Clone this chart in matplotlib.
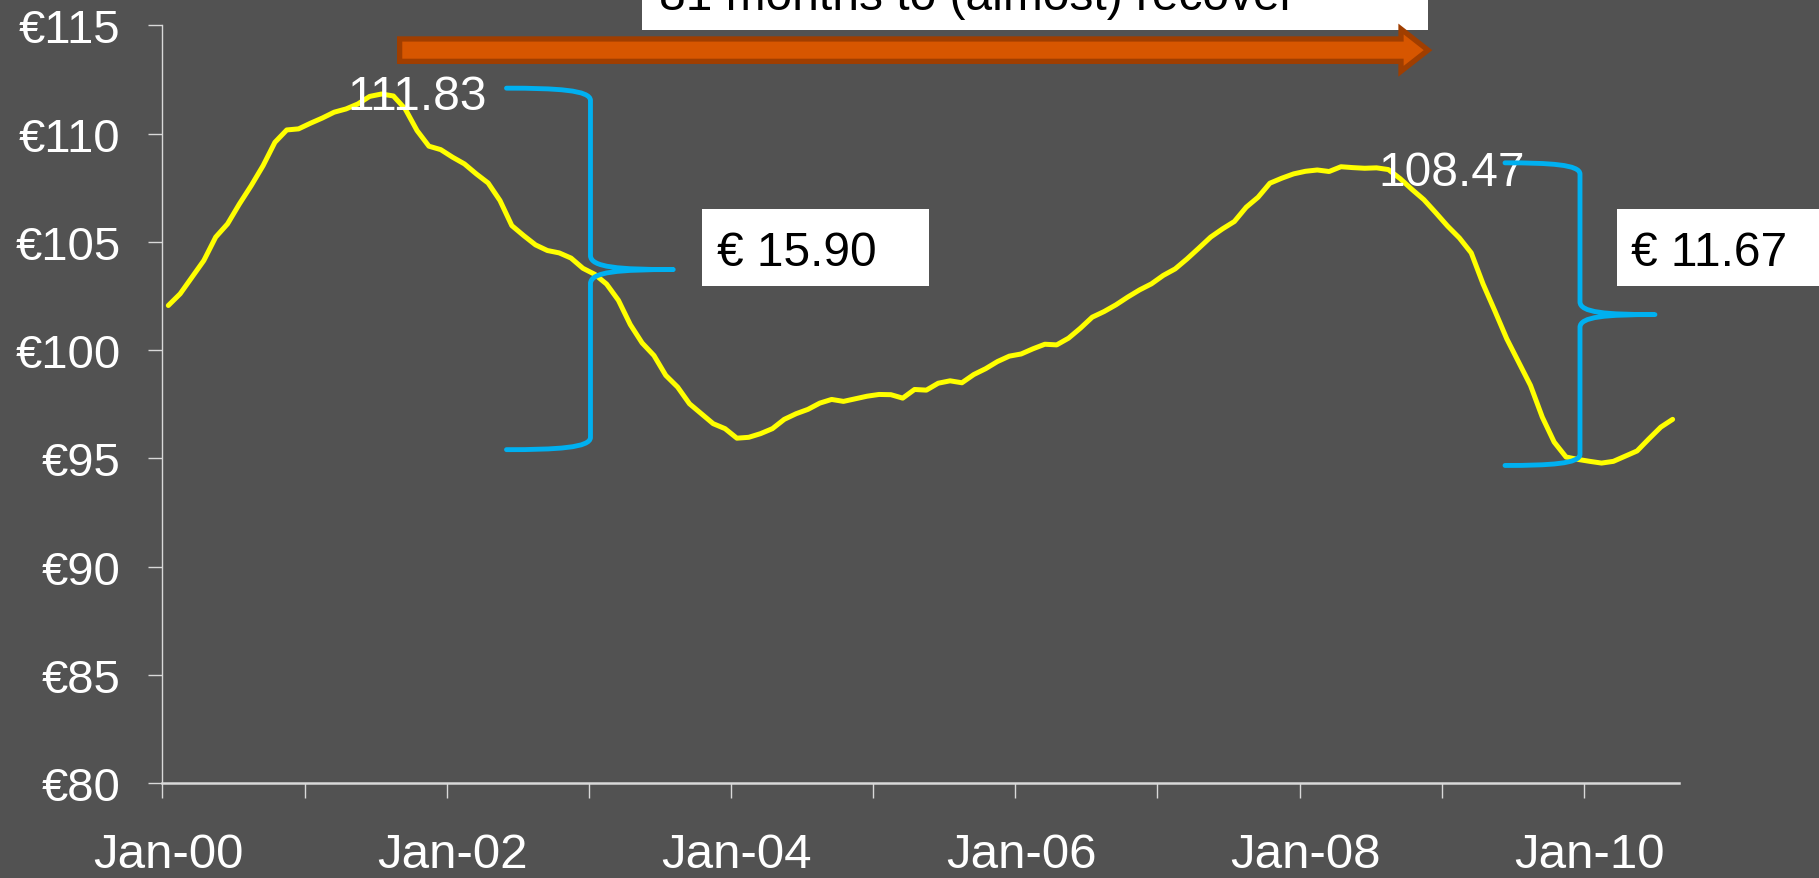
import matplotlib
matplotlib.use("Agg")
import matplotlib.pyplot as plt
from matplotlib.path import Path
from matplotlib.patches import PathPatch, FancyArrow, Rectangle

# Monthly index values, Jan-2000 .. Aug-2010
values = [
    102.06, 102.60, 103.37, 104.14, 105.22, 105.83, 106.75, 107.60, 108.52, 109.60,
    110.17, 110.22, 110.48, 110.72, 110.99, 111.14, 111.37, 111.72, 111.83, 111.74,
    111.14, 110.14, 109.42, 109.26, 108.91, 108.60, 108.14, 107.72, 106.91, 105.75,
    105.29, 104.86, 104.60, 104.49, 104.25, 103.78, 103.50, 103.05, 102.30, 101.18,
    100.33, 99.75, 98.83, 98.29, 97.52, 97.06, 96.60, 96.37, 95.93, 95.97,
    96.14, 96.37, 96.80, 97.06, 97.26, 97.55, 97.72, 97.63, 97.75, 97.87,
    97.95, 97.94, 97.78, 98.18, 98.15, 98.47, 98.58, 98.49, 98.87, 99.14,
    99.47, 99.72, 99.82, 100.06, 100.27, 100.24, 100.55, 101.01, 101.52, 101.78,
    102.09, 102.45, 102.78, 103.06, 103.45, 103.75, 104.21, 104.71, 105.22, 105.60,
    105.94, 106.60, 107.06, 107.71, 107.94, 108.14, 108.26, 108.32, 108.25, 108.47,
    108.43, 108.40, 108.42, 108.34, 107.92, 107.42, 106.95, 106.35, 105.73, 105.18,
    104.49, 103.05, 101.80, 100.52, 99.44, 98.37, 96.90, 95.75, 95.06, 94.95,
    94.86, 94.78, 94.86, 95.10, 95.34, 95.90, 96.44, 96.80,
]
year_tick_labels = ["Jan-00", "Jan-02", "Jan-04", "Jan-06", "Jan-08", "Jan-10"]
y_ticks = [80, 85, 90, 95, 100, 105, 110, 115]
recovery_text = "81 months to (almost) recover"

BG = "#525252"
AXIS = "#D9D9D9"
YELLOW = "#FFFF00"
BLUE = "#00B0F0"
FONT = "Liberation Sans"

plt.rcParams["font.family"] = [FONT, "DejaVu Sans"]

n = len(values)
xs = [i + 0.5 for i in range(n)]

fig = plt.figure(figsize=(18.19, 8.79), dpi=100, facecolor=BG)
ax = fig.add_axes([0.08928, 0.10808, 0.83350, 0.86189])
ax.set_facecolor(BG)

ax.plot(xs, values, color=YELLOW, lw=3.6, zorder=3, solid_joinstyle="round",
        solid_capstyle="round")

ax.set_xlim(0, n)
ax.set_ylim(80, 115)

# axes styling
for s in ("top", "right"):
    ax.spines[s].set_visible(False)
ax.spines["left"].set_color(AXIS)
ax.spines["left"].set_linewidth(1.0)
ax.spines["bottom"].set_color(AXIS)
ax.spines["bottom"].set_linewidth(1.8)

ax.set_yticks(y_ticks)
ax.set_yticklabels([f"€{v}" for v in y_ticks])
ax.tick_params(axis="y", colors=AXIS, length=10, width=1.0, pad=20,
               labelsize=34, labelcolor="white")

ax.set_xticks(range(0, 121, 12))
ax.set_xticklabels([])
ax.tick_params(axis="x", which="major", colors=AXIS, length=11, width=1.0)
ax.set_xticks([24 * k + 0.5 for k in range(len(year_tick_labels))], minor=True)
ax.set_xticklabels(year_tick_labels, minor=True)
ax.tick_params(axis="x", which="minor", length=0, pad=35, labelsize=35.5,
               labelcolor="white")

# peak labels
peak1_i = max(range(0, 40), key=lambda i: values[i])
trough1_i = min(range(30, 70), key=lambda i: values[i])
peak2_i = max(range(80, 110), key=lambda i: values[i])
last_i = n - 1

ax.text(21.5, 111.14, f"{values[peak1_i]:.2f}", color="white", fontsize=34.5,
        ha="center", va="baseline", zorder=4)
ax.text(108.85, 107.63, f"{values[peak2_i]:.2f}", color="white", fontsize=34.5,
        ha="center", va="baseline", zorder=4)


def brace(x_end, x_spine, x_tip, y_top, y_bot, y_mid, d_end, d_mid):
    w = x_spine - x_end
    t = x_tip - x_spine
    verts = [
        (x_end, y_top),
        (x_end + 0.6 * w, y_top), (x_spine, y_top - 0.15 * d_end), (x_spine, y_top - d_end),
        (x_spine, y_mid + d_mid),
        (x_spine, y_mid + 0.15 * d_mid), (x_spine + 0.35 * t, y_mid), (x_tip, y_mid),
        (x_spine + 0.35 * t, y_mid), (x_spine, y_mid - 0.15 * d_mid), (x_spine, y_mid - d_mid),
        (x_spine, y_bot + d_end),
        (x_spine, y_bot + 0.15 * d_end), (x_end + 0.6 * w, y_bot), (x_end, y_bot),
    ]
    codes = [Path.MOVETO,
             Path.CURVE4, Path.CURVE4, Path.CURVE4,
             Path.LINETO,
             Path.CURVE4, Path.CURVE4, Path.CURVE4,
             Path.CURVE4, Path.CURVE4, Path.CURVE4,
             Path.LINETO,
             Path.CURVE4, Path.CURVE4, Path.CURVE4]
    ax.add_patch(PathPatch(Path(verts, codes), fill=False, ec=BLUE, lw=3.5,
                           capstyle="round", joinstyle="round", zorder=5,
                           clip_on=False))


brace(29.05, 36.14, 43.13, 112.10, 95.40, 103.72, 0.57, 0.65)
brace(113.35, 119.68, 126.01, 108.65, 94.67, 101.64, 0.52, 0.59)


def value_box(x0, x1, y0, y1, tx, ty, label):
    ax.add_patch(Rectangle((x0, y0), x1 - x0, y1 - y0, fc="white", ec="none",
                           zorder=6, clip_on=False))
    ax.text(tx, ty, label, color="black", fontsize=34.5, ha="left",
            va="baseline", zorder=7, clip_on=False)


drop1 = values[peak1_i] - values[trough1_i]
drop2 = values[peak2_i] - values[last_i]
value_box(45.56, 64.69, 102.94, 106.52, 46.85, 103.94, f"€ {drop1:.2f}")
value_box(122.78, 141.0, 102.94, 106.52, 124.0, 103.94, f"€ {drop2:.2f}")

# recovery period annotation
value_box(40.47, 106.85, 114.80, 118.5, 41.9, 115.76, recovery_text)
ax.add_patch(FancyArrow(20.03, 113.857, 106.85 - 20.03, 0, width=1.034,
                        head_width=1.953, head_length=2.28,
                        length_includes_head=True, fc="#D75600", ec="#A03E00",
                        lw=3.8, joinstyle="miter", zorder=6, clip_on=False))

fig.savefig("out.png", dpi=100, facecolor=BG)
